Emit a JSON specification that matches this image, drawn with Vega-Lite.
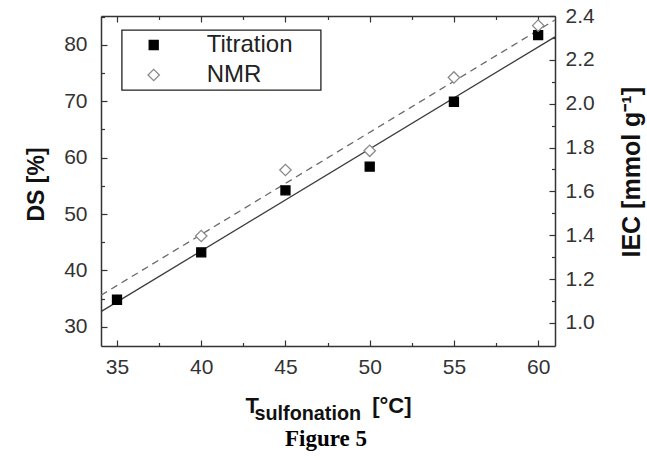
{
  "$schema": "https://vega.github.io/schema/vega-lite/v6.json",
  "width": 454,
  "height": 330,
  "autosize": {"type": "none"},
  "padding": {"left": 101, "top": 16, "right": 92, "bottom": 114},
  "background": "white",
  "title": {"text": "Figure 5", "orient": "bottom", "anchor": "middle", "frame": "group", "font": "Liberation Serif", "fontSize": 23, "fontWeight": "bold", "color": "#000", "offset": 5, "dx": -2},
  "config": {
    "view": {"stroke": null},
    "axis": {"grid": false, "domainColor": "#333", "domainWidth": 1.5, "tickColor": "#333", "tickWidth": 1.2, "labelFont": "Liberation Sans", "labelFontSize": 21, "labelColor": "#333", "titleFont": "Liberation Sans", "titleFontWeight": "bold", "titleColor": "#111"},
    "legend": {"strokeWidth": 1.3}
  },
  "datasets": {
    "pts": [
      {"T": 35, "series": "Titration", "DS": 34.8, "IEC": 1.10},
      {"T": 40, "series": "Titration", "DS": 43.2, "IEC": 1.32},
      {"T": 45, "series": "Titration", "DS": 54.2, "IEC": 1.60},
      {"T": 50, "series": "Titration", "DS": 58.4, "IEC": 1.71},
      {"T": 55, "series": "Titration", "DS": 69.9, "IEC": 2.01},
      {"T": 60, "series": "Titration", "DS": 81.7, "IEC": 2.31},
      {"T": 40, "series": "NMR", "DS": 46.1},
      {"T": 45, "series": "NMR", "DS": 57.8},
      {"T": 50, "series": "NMR", "DS": 61.2},
      {"T": 55, "series": "NMR", "DS": 74.2},
      {"T": 60, "series": "NMR", "DS": 83.4}
    ],
    "fits": [
      {"series": "Titration", "T": 34.05, "DS": 32.7},
      {"series": "Titration", "T": 61, "DS": 81.4},
      {"series": "NMR", "T": 34.05, "DS": 35.6},
      {"series": "NMR", "T": 61, "DS": 84.4}
    ]
  },
  "resolve": {"scale": {"y": "independent"}, "axis": {"x": "independent", "y": "independent"}},
  "layer": [
    {
      "data": {"name": "fits"},
      "transform": [{"filter": "datum.series === 'Titration'"}],
      "mark": {"type": "line", "stroke": "#3c3c3c", "strokeWidth": 1.3},
      "encoding": {
        "x": {"field": "T", "type": "quantitative", "scale": {"domain": [34.05, 61], "nice": false, "zero": false},
          "axis": {"orient": "bottom", "values": [35, 37.5, 40, 42.5, 45, 47.5, 50, 52.5, 55, 57.5, 60],
            "labelExpr": "datum.value % 5 === 0 ? datum.label : ''",
            "tickSize": {"condition": {"test": "datum.value % 5 === 0", "value": -6}, "value": -3.5},
            "labelPadding": 16,
            "title": "T", "titleX": 144, "titleY": 66, "titleAlign": "left", "titleBaseline": "alphabetic", "titleFontSize": 22}},
        "y": {"field": "DS", "type": "quantitative", "scale": {"domain": [26.6, 85.1], "nice": false, "zero": false},
          "axis": {"orient": "left", "values": [30, 35, 40, 45, 50, 55, 60, 65, 70, 75, 80, 85],
            "labelExpr": "datum.value % 10 === 0 ? datum.label : ''",
            "tickSize": {"condition": {"test": "datum.value % 10 === 0", "value": -6}, "value": -3.5},
            "labelPadding": 20,
            "title": "DS [%]", "titleX": -57.5, "titleY": 168, "titleAngle": -90, "titleAlign": "center", "titleBaseline": "alphabetic", "titleFontSize": 23}}
      }
    },
    {
      "data": {"name": "fits"},
      "transform": [{"filter": "datum.series === 'NMR'"}],
      "mark": {"type": "line", "stroke": "#6a6a6a", "strokeWidth": 1.3, "strokeDash": [7, 5]},
      "encoding": {
        "x": {"field": "T", "type": "quantitative", "axis": null},
        "y": {"field": "DS", "type": "quantitative", "scale": {"domain": [26.6, 85.1], "nice": false, "zero": false}, "axis": null}
      }
    },
    {
      "data": {"name": "pts"},
      "mark": {"type": "point", "filled": false, "opacity": 1, "strokeWidth": 1.3},
      "encoding": {
        "x": {"field": "T", "type": "quantitative",
          "axis": {"orient": "top", "values": [35, 37.5, 40, 42.5, 45, 47.5, 50, 52.5, 55, 57.5, 60], "labels": false, "title": null,
            "tickSize": {"condition": {"test": "datum.value % 5 === 0", "value": -6}, "value": -3.5}}},
        "y": {"field": "DS", "type": "quantitative", "scale": {"domain": [26.6, 85.1], "nice": false, "zero": false}, "axis": null},
        "shape": {"field": "series", "type": "nominal", "scale": {"domain": ["Titration", "NMR"], "range": ["square", "diamond"]},
          "legend": {"title": "\u00a0", "titleOrient": "right", "titleFontSize": 2, "titlePadding": 25, "titleOpacity": 0,
            "orient": "none", "legendX": 20.7, "legendY": 14, "strokeColor": "#222", "padding": 3,
            "labelFontSize": 24, "labelFont": "Liberation Sans", "labelColor": "#222", "symbolOffset": 17, "labelOffset": 41, "rowPadding": 6,
            "symbolStrokeWidth": 1.3}},
        "fill": {"field": "series", "type": "nominal", "scale": {"domain": ["Titration", "NMR"], "range": ["#000000", "#ffffff"]}},
        "stroke": {"field": "series", "type": "nominal", "scale": {"domain": ["Titration", "NMR"], "range": ["#000000", "#8a8a8a"]}},
        "size": {"field": "series", "type": "nominal", "scale": {"domain": ["Titration", "NMR"], "range": [81, 130]}}
      }
    },
    {
      "data": {"name": "pts"},
      "mark": {"type": "point", "opacity": 0},
      "encoding": {
        "x": {"field": "T", "type": "quantitative",
          "axis": {"orient": "bottom", "labels": false, "ticks": false, "domain": false,
            "title": "[°C]", "titleX": 270.7, "titleY": 66, "titleAlign": "left", "titleBaseline": "alphabetic", "titleFontSize": 22}},
        "y": {"field": "DS", "type": "quantitative", "scale": {"domain": [26.6, 85.1], "nice": false, "zero": false}, "axis": null}
      }
    },
    {
      "data": {"name": "pts"},
      "transform": [{"filter": "datum.series === 'Titration'"}],
      "mark": {"type": "point", "opacity": 0},
      "encoding": {
        "x": {"field": "T", "type": "quantitative",
          "axis": {"orient": "bottom", "labels": false, "ticks": false, "domain": false,
            "title": "sulfonation", "titleX": 153, "titleY": 73, "titleAlign": "left", "titleBaseline": "alphabetic", "titleFontSize": 19.8}},
        "y": {"field": "IEC", "type": "quantitative", "scale": {"domain": [0.895, 2.4], "nice": false, "zero": false},
          "axis": {"orient": "right", "values": [1.0, 1.1, 1.2, 1.3, 1.4, 1.5, 1.6, 1.7, 1.8, 1.9, 2.0, 2.1, 2.2, 2.3, 2.4],
            "labelExpr": "round(datum.value * 10) % 2 === 0 ? format(datum.value, '.1f') : ''",
            "tickSize": {"condition": {"test": "round(datum.value * 10) % 2 === 0", "value": -6}, "value": -3.5},
            "labelPadding": 16,
            "title": "IEC [mmol g⁻¹]", "titleX": 84, "titleY": 241, "titleAngle": 270, "titleAlign": "left", "titleBaseline": "alphabetic", "titleFontSize": 25}}
      }
    }
  ]
}
